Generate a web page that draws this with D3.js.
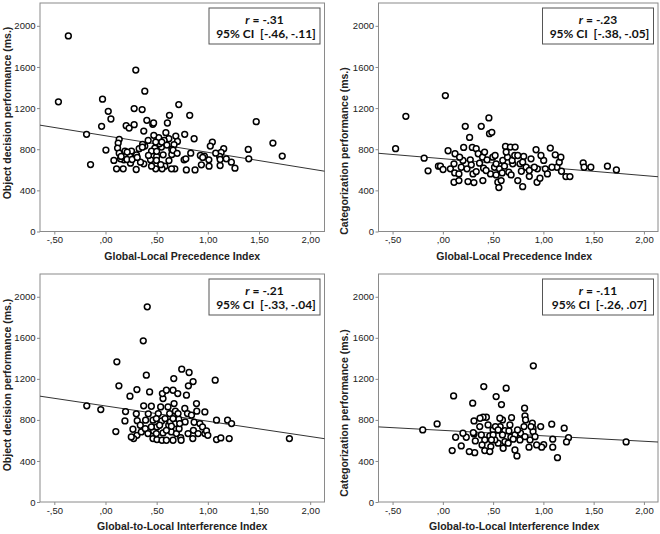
<!DOCTYPE html>
<html><head><meta charset="utf-8">
<script src="https://cdn.jsdelivr.net/npm/d3@7"></script>
<style>body{margin:0;background:#fff} svg{display:block}</style>
</head><body><svg id="c" width="660" height="534"></svg>
<script>
// Panel 1: Global-Local Precedence Index vs Object decision
const p1X=[-0.363,-0.46,0.296,0.384,-0.029,0.027,0.053,-0.038,0.28,0.358,0.202,0.231,0.28,0.404,0.462,0.47,0.374,0.625,0.605,0.716,0.823,1.473,-0.185,0.004,-0.146,1.636,1.727,1.395,1.40,1.265,1.23,1.18,1.155,1.13,1.115,1.12,1.044,1.024,1.012,1.01,1.077,0.927,0.966,0.937,0.875,0.79,0.768,0.785,0.833,0.866,0.774,0.687,0.703,0.67,0.648,0.648,0.677,0.645,0.59,0.619,0.573,0.547,0.563,0.58,0.553,0.52,0.527,0.491,0.472,0.482,0.5,0.498,0.491,0.45,0.44,0.45,0.417,0.384,0.362,0.374,0.342,0.329,0.303,0.3,0.254,0.238,0.244,0.19,0.18,0.173,0.134,0.124,0.118,0.134,0.147,0.108,0.082,0.153,0.212,0.55,0.60,0.66,0.42,0.21,0.26,0.31,0.70,0.95,1.12,0.50,0.36,0.54,0.62];
const p1Y=[1902,1261,1570,1365,1287,1169,1094,1023,1195,1186,1029,1006,1039,1081,1042,1055,977,1130,1055,1234,1130,1068,945,792,651,860,733,798,707,616,674,707,805,769,730,642,870,831,635,697,762,739,733,648,599,599,697,707,762,902,945,928,876,844,798,749,609,609,961,902,886,821,746,635,609,912,853,870,935,811,730,691,609,782,697,635,886,831,847,658,674,805,746,603,782,730,664,782,697,609,896,860,811,762,707,609,691,730,772,870,840,790,740,700,700,720,760,720,700,780,820,650,690];
// Panel 2: Global-Local Precedence Index vs Categorization
const p2X=[0.025,-0.368,-0.47,-0.186,-0.147,-0.044,-0.024,0.002,0.052,0.075,0.121,0.111,0.118,0.111,0.16,0.16,0.183,0.2,0.207,0.223,0.24,0.25,0.266,0.273,0.293,0.3,0.309,0.283,0.332,0.352,0.365,0.382,0.395,0.405,0.415,0.44,0.458,0.464,0.487,0.474,0.497,0.52,0.514,0.53,0.547,0.557,0.58,0.563,0.59,0.596,0.613,0.623,0.643,0.656,0.672,0.679,0.695,0.689,0.719,0.745,0.768,0.781,0.794,0.804,0.828,0.86,0.86,0.927,0.94,0.937,0.966,1.003,1.019,1.04,1.069,1.118,1.135,1.158,1.174,1.18,1.224,1.264,1.396,1.405,1.472,1.637,1.726,0.398,0.43,0.63,0.715,0.877,0.91,0.976,0.167,0.332,0.53,0.745,0.794,1.085];
const p2Y=[1322,1120,805,713,590,635,635,603,785,609,756,658,570,479,560,495,625,691,818,1023,609,485,915,697,818,560,476,648,805,756,664,1023,723,616,772,697,1104,951,964,560,723,739,625,550,479,427,495,609,570,691,635,827,723,577,821,550,658,691,821,495,658,586,436,730,625,537,593,795,609,479,518,691,609,560,811,746,625,674,723,586,534,534,668,625,625,635,599,495,593,772,739,707,625,739,723,583,658,739,674,625];
// Panel 3: Global-to-Local Interference Index vs Object decision
const p3X=[0.408,0.369,0.111,0.131,0.239,-0.183,-0.046,0.196,0.19,0.101,0.307,0.399,0.431,0.373,0.301,0.31,0.307,0.275,0.34,0.35,0.389,0.418,0.448,0.464,0.47,0.464,0.503,0.503,0.516,0.539,0.562,0.556,0.595,0.549,0.562,0.552,0.582,0.611,0.618,0.595,0.627,0.634,0.644,0.66,0.67,0.683,0.683,0.693,0.706,0.667,0.716,0.719,0.735,0.745,0.817,0.791,0.81,0.856,0.775,0.778,0.739,0.801,0.84,0.866,0.859,0.853,0.889,0.892,0.922,0.948,0.971,0.971,0.987,1.0,1.072,1.085,1.085,1.127,1.193,1.209,1.232,1.797,0.66,0.709,0.497,0.529,0.415,0.595,0.644,0.725,0.392,0.448,0.807,0.66,0.252,0.268,0.497,0.905];
const p3Y=[1902,1571,1366,1132,1031,937,901,881,790,686,1096,1236,1073,937,859,793,650,618,748,683,715,859,933,797,693,618,608,732,862,927,1008,1057,1089,790,673,602,813,927,748,602,862,780,683,1089,959,885,764,667,1057,1203,807,715,628,1294,1262,1041,1132,1174,911,780,602,862,846,777,699,618,959,885,764,732,878,667,693,650,1187,797,608,624,797,618,764,618,813,862,667,748,667,699,738,764,797,732,667,602,634,709,813,667];
// Panel 4: Global-to-Local Interference Index vs Categorization
const p4X=[0.9,0.407,0.63,0.107,0.53,0.297,0.583,-0.057,-0.2,0.813,0.817,0.823,1.083,1.207,1.25,1.23,1.14,1.093,1.093,0.973,1.003,0.983,0.89,0.897,0.897,0.857,0.867,0.807,0.773,0.767,0.737,0.717,0.677,0.683,0.617,0.593,0.567,0.57,0.55,0.517,0.5,0.477,0.467,0.433,0.4,0.37,0.31,0.367,0.31,0.323,0.417,0.417,0.317,0.263,0.233,0.2,0.127,0.183,0.093,0.303,0.467,0.45,0.523,0.617,0.593,0.65,0.657,0.717,0.917,0.933,0.383,0.5,0.55,0.6,0.483,0.39,0.7,0.743,0.877,0.667,0.817,1.823];
const p4Y=[1327,1125,1109,1034,1027,963,949,761,702,914,839,800,758,719,627,585,432,612,534,735,559,534,768,719,686,534,605,735,670,605,449,507,631,822,696,800,816,735,573,605,702,540,644,826,826,816,790,735,663,595,605,501,481,491,631,670,631,546,501,676,491,751,735,588,654,573,693,654,637,556,654,654,702,524,605,556,612,702,735,751,637,585];

const xTickValues=[-0.5,0,0.5,1,1.5,2];
const xTickLabels=["-,50",",00",",50","1,00","1,50","2,00"];
const yTickValues=[0,400,800,1200,1600,2000];
const yTickLabels=["0","400","800","1200","1600","2000"];
const xTitles=["Global-Local Precedence Index","Global-Local Precedence Index","Global-to-Local Interference Index","Global-to-Local Interference Index"];
const yTitles=["Object decision performance (ms.)","Categorization performance (ms.)","Object decision performance (ms.)","Categorization performance (ms.)"];
const rValues=["-.31","-.23","-.21","-.11"];
const ciLabels=["95% CI  [-.46, -.11]","95% CI  [-.38, -.05]","95% CI  [-.33, -.04]","95% CI  [-.26, .07]"];
const fitIntercepts=[931,708,936,698];
const fitSlopes=[-161,-82,-149,-53];

const xs=[p1X,p2X,p3X,p4X], ys=[p1Y,p2Y,p3Y,p4Y];
const layout=[
 {l:40,r:324.5,t:3,b:231.5,ytx:7,yty:113},
 {l:378.5,r:658,t:3,b:231.5,ytx:344,yty:151},
 {l:40,r:324.5,t:274,b:502,ytx:7,yty:385},
 {l:378.5,r:658,t:274,b:502,ytx:344,yty:413}
];
const svg=d3.select("#c");
const FONT="'Liberation Sans', Arial, sans-serif";
const frameCol="#8a8a8a";

layout.forEach((L,i)=>{
  const x=d3.scaleLinear().domain([-0.64,2.14]).range([L.l,L.r]);
  const y=d3.scaleLinear().domain([0,2222]).range([L.b,L.t]);
  const g=svg.append("g");
  const ax=g.append("g").attr("transform",`translate(0,${L.b})`)
    .call(d3.axisBottom(x).tickValues(xTickValues).tickFormat((d,k)=>xTickLabels[k]).tickSize(3).tickPadding(2));
  const ay=g.append("g").attr("transform",`translate(${L.l},0)`)
    .call(d3.axisLeft(y).tickValues(yTickValues).tickFormat((d,k)=>yTickLabels[k]).tickSize(3).tickPadding(1.5));
  [ax,ay].forEach(a=>{
    a.select(".domain").remove();
    a.selectAll("line").attr("stroke",frameCol);
    a.selectAll("text").attr("font-family",FONT).attr("font-size","9.5px").attr("fill","#222");
  });
  g.append("rect").attr("x",L.l).attr("y",L.t).attr("width",L.r-L.l).attr("height",L.b-L.t)
    .attr("fill","none").attr("stroke",frameCol).attr("stroke-width",1);
  const x0=-0.64,x1=2.14;
  g.append("line").attr("x1",x(x0)).attr("x2",x(x1))
    .attr("y1",y(fitIntercepts[i]+fitSlopes[i]*x0)).attr("y2",y(fitIntercepts[i]+fitSlopes[i]*x1))
    .attr("stroke","#333").attr("stroke-width",1);
  g.append("g").selectAll("circle").data(xs[i].map((v,k)=>[v,ys[i][k]])).join("circle")
    .attr("cx",d=>x(d[0])).attr("cy",d=>y(d[1])).attr("r",2.9)
    .attr("fill","#fff").attr("stroke","#000").attr("stroke-width",1.5);
  g.append("text").attr("x",(L.l+L.r)/2+(i%2?-4:0)).attr("y",L.b+28).attr("text-anchor","middle")
    .attr("font-family",FONT).attr("font-weight","bold").attr("font-size","10.5px").attr("fill","#222")
    .text(xTitles[i]);
  g.append("text").attr("transform",`translate(${L.ytx},${L.yty}) rotate(-90)`).attr("text-anchor","middle")
    .attr("dominant-baseline","central")
    .attr("font-family",FONT).attr("font-weight","bold").attr("font-size","10.5px").attr("fill","#222")
    .text(yTitles[i]);
  const bw=111,bh=36,bx=L.r-4.5-bw,by=L.t+5;
  g.append("rect").attr("x",bx).attr("y",by).attr("width",bw).attr("height",bh)
    .attr("fill","#fff").attr("stroke","#555").attr("stroke-width",1);
  const t1=g.append("text").attr("x",bx+bw/2).attr("y",by+15.5).attr("text-anchor","middle")
    .attr("font-family","Lato, 'Open Sans', sans-serif").attr("font-weight","bold").attr("font-size","12px").attr("fill","#111");
  t1.append("tspan").attr("font-style","italic").text("r");
  t1.append("tspan").text(" = "+rValues[i]);
  g.append("text").attr("x",bx+bw/2+1.5).attr("y",by+29.5).attr("text-anchor","middle")
    .attr("font-family","Lato, 'Open Sans', sans-serif").attr("font-weight","bold").attr("font-size","12px").attr("fill","#111")
    .attr("xml:space","preserve").style("white-space","pre")
    .text(ciLabels[i]);
});
</script></body></html>
